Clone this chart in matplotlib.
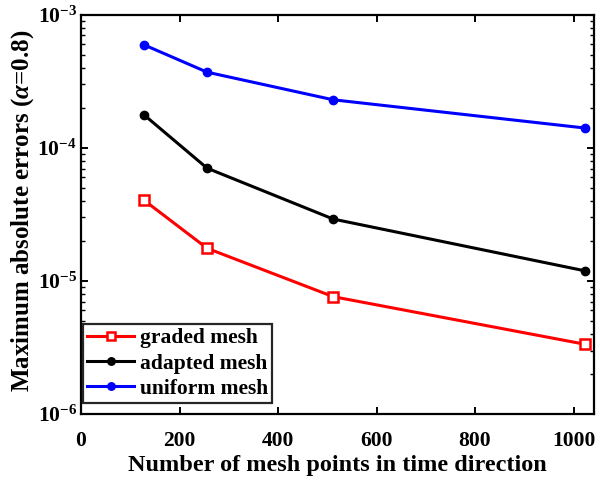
import numpy as np
import matplotlib.pyplot as plt
from matplotlib.ticker import LogLocator, NullFormatter, FixedLocator

# mesh sizes and max errors (alpha = 0.8)
n_points = [128, 256, 512, 1024]
err_graded = [4.04e-5, 1.76e-5, 7.62e-6, 3.34e-6]
err_adapted = [1.77e-4, 7.04e-5, 2.92e-5, 1.19e-5]
err_uniform = [5.95e-4, 3.71e-4, 2.30e-4, 1.41e-4]

plt.rcParams.update({
    "font.family": ["Liberation Serif", "DejaVu Serif"],
    "font.weight": "bold",
    "mathtext.fontset": "custom",
    "mathtext.rm": "Liberation Serif:bold",
    "mathtext.it": "Liberation Serif:italic:bold",
    "mathtext.bf": "Liberation Serif:bold",
    "axes.linewidth": 1.6,
    "xtick.direction": "in",
    "ytick.direction": "in",
    "xtick.top": True,
    "ytick.right": True,
})

fig = plt.figure(figsize=(5.96, 4.8), dpi=100)
ax = fig.add_axes([0.136, 0.1375, 0.861, 0.8315])

ax.plot(n_points, err_graded, "-s", color="red", lw=2.2, ms=6.5, mfc="white",
        mec="red", mew=1.8, label="graded mesh")
ax.plot(n_points, err_adapted, "-o", color="black", lw=2.2, ms=6,
        label="adapted mesh")
ax.plot(n_points, err_uniform, "-o", color="blue", lw=2.2, ms=6,
        label="uniform mesh")

ax.set_yscale("log")
ax.set_xlim(0, 1042)
ax.set_ylim(1e-6, 1e-3)
ax.xaxis.set_major_locator(FixedLocator([0, 200, 400, 600, 800, 1000]))
ax.yaxis.set_major_locator(LogLocator(base=10, numticks=10))
ax.yaxis.set_minor_locator(LogLocator(base=10, subs=np.arange(2, 10), numticks=10))
ax.yaxis.set_minor_formatter(NullFormatter())
ax.tick_params(which="major", length=5, width=1.4, labelsize=15.5)
ax.tick_params(which="minor", length=3, width=1.0)
ax.tick_params(axis="x", which="major", pad=12)
ax.tick_params(axis="y", which="major", pad=3)
for lab in ax.get_xticklabels() + ax.get_yticklabels():
    lab.set_fontweight("bold")

ax.set_xlabel("Number of mesh points in time direction", fontsize=17.5,
              fontweight="bold", labelpad=3)
ax.set_ylabel(r"Maximum absolute errors ($\alpha$=0.8)", fontsize=18,
              fontweight="bold", labelpad=1)
ax.yaxis.label.set_y(0.51)

leg = ax.legend(loc="lower left", bbox_to_anchor=(0.003, 0.027),
                fontsize=15.5, handlelength=2.2, borderpad=0.2,
                labelspacing=0.24, handletextpad=0.25, borderaxespad=0,
                fancybox=False, framealpha=1, markerscale=0.9)
leg.get_frame().set_edgecolor("#262626")
leg.get_frame().set_linewidth(1.6)
for t in leg.get_texts():
    t.set_fontweight("bold")

fig.savefig("out.png", dpi=100)
